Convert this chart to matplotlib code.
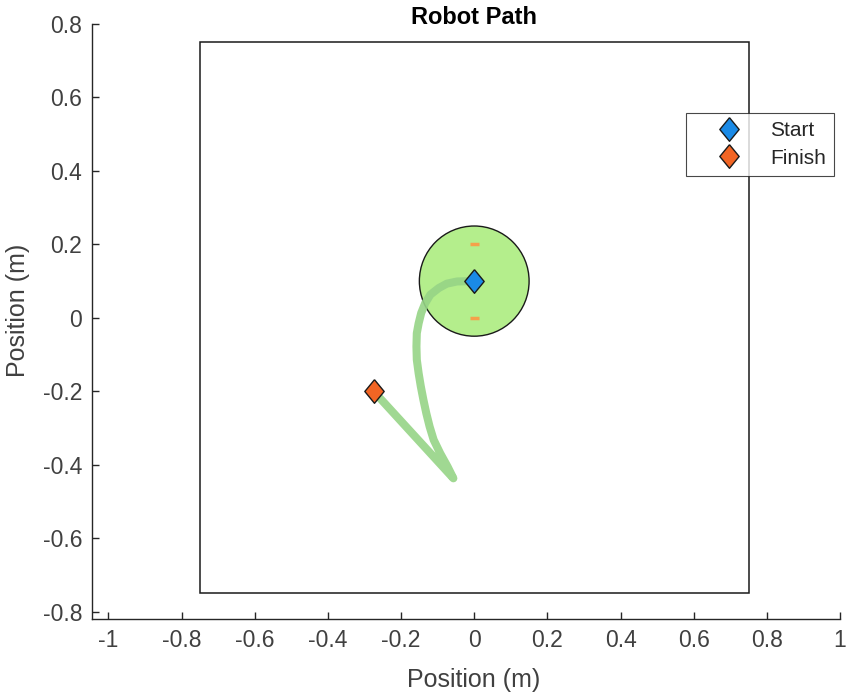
import matplotlib
matplotlib.use("Agg")
import matplotlib.pyplot as plt
from matplotlib.patches import Rectangle, Circle

# ---- data ----
path_x = [0.0, -0.047, -0.075, -0.097, -0.120, -0.134, -0.145, -0.152, -0.157, -0.158, -0.157,
          -0.152, -0.146, -0.139, -0.131, -0.122, -0.111, -0.093, -0.073, -0.057, -0.275]
path_y = [0.10, 0.099, 0.093, 0.081, 0.063, 0.040, 0.013, -0.015, -0.042, -0.078, -0.114,
          -0.151, -0.187, -0.223, -0.260, -0.296, -0.332, -0.369, -0.405, -0.437, -0.20]
start_xy = (0.0, 0.10)
finish_xy = (-0.275, -0.20)
robot_center = (0.0, 0.10)
robot_radius = 0.15
wheel_y = [0.20, 0.0]
arena = (-0.75, -0.75, 1.5, 1.5)
xticks = [-1, -0.8, -0.6, -0.4, -0.2, 0, 0.2, 0.4, 0.6, 0.8, 1]
yticks = [-0.8, -0.6, -0.4, -0.2, 0, 0.2, 0.4, 0.6, 0.8]
xticklabels = ['-1', '-0.8', '-0.6', '-0.4', '-0.2', '0', '0.2', '0.4', '0.6', '0.8', '1']
yticklabels = ['-0.8', '-0.6', '-0.4', '-0.2', '0', '0.2', '0.4', '0.6', '0.8']

plt.rcParams['font.family'] = ['Liberation Sans', 'DejaVu Sans']
W, H = 848, 694
fig = plt.figure(figsize=(W/100, H/100), dpi=100)
ax = fig.add_axes([92/W, 1-619/H, (840-92)/W, (619-24)/H])
ax.set_xlim(-1.045, 1.0)
ax.set_ylim(-0.82, 0.80)

axcol = '#262626'
txtcol = '#404040'
# arena
ax.add_patch(Rectangle(arena[:2], arena[2], arena[3], fill=False, ec='#1a1a1a', lw=1.1, zorder=1))
# robot body
ax.add_patch(Circle(robot_center, robot_radius, fc='#b4ee8c', ec='#1a1a1a', lw=1.0, zorder=2))
# wheels
for wy in wheel_y:
    ax.plot([-0.012, 0.012], [wy, wy], color='#f5a04a', lw=2.5, solid_capstyle='butt', zorder=3)
# path
ax.plot(path_x, path_y, color='#96d486', lw=5.8, alpha=0.9, solid_capstyle='round',
        solid_joinstyle='round', zorder=4)
# markers
dia = [(0, 1), (0.82, 0), (0, -1), (-0.82, 0), (0, 1)]
ax.plot(*start_xy, marker=dia, ms=17, mfc='#1a8ae6', mec='#1a1a1a', mew=1.0, ls='none',
        zorder=5, label='Start')
ax.plot(*finish_xy, marker=dia, ms=17, mfc='#f26524', mec='#1a1a1a', mew=1.0, ls='none',
        zorder=5, label='Finish')

# axes styling
for s in ['top', 'right']:
    ax.spines[s].set_visible(False)
for s in ['left', 'bottom']:
    ax.spines[s].set_color(axcol)
    ax.spines[s].set_linewidth(1.0)
ax.set_xticks(xticks)
ax.set_xticklabels(xticklabels)
ax.set_yticks(yticks)
ax.set_yticklabels(yticklabels)
ax.tick_params(direction='in', length=5, width=1.0, colors=axcol, labelsize=16.5, pad=7,
               labelcolor=txtcol)

fig.text(474/W, 1-18/H, 'Robot Path', ha='center', va='center', fontsize=17,
         fontweight='bold', color='#000000')
fig.text(474/W, 1-680/H, 'Position (m)', ha='center', va='center', fontsize=18, color=txtcol)
fig.text(18/W, 1-310/H, 'Position (m)', ha='center', va='center', fontsize=18, color=txtcol,
         rotation=90)

leg = ax.legend(loc='upper right', bbox_to_anchor=(834/W, 1-113/H), bbox_transform=fig.transFigure,
                borderaxespad=0, fancybox=False, edgecolor='#1a1a1a', fontsize=15,
                handletextpad=0.3, borderpad=0.4, labelspacing=0.4, handlelength=3.3)
leg.get_frame().set_linewidth(0.8)
for t in leg.get_texts():
    t.set_color('#262626')

fig.savefig('out.png', dpi=100)
